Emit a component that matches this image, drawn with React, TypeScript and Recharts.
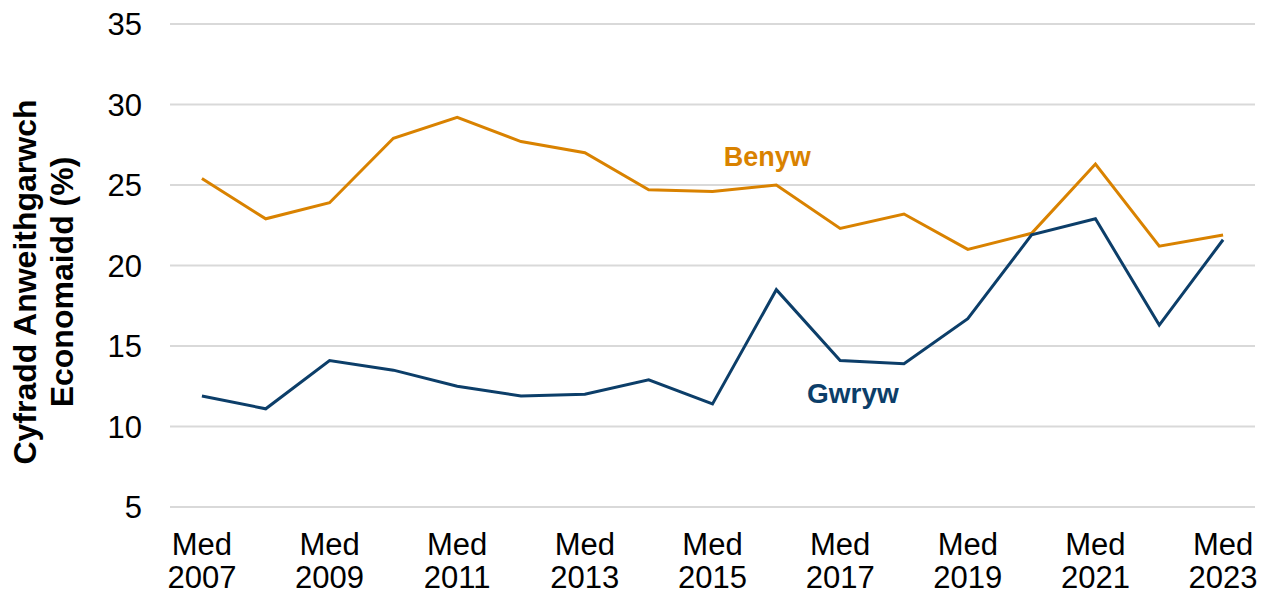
import React from 'react';
import { LineChart, Line, XAxis, YAxis, CartesianGrid } from 'recharts';

const monthLabel = 'Med';
const years = ['2007','2008','2009','2010','2011','2012','2013','2014','2015','2016','2017','2018','2019','2020','2021','2022','2023'];
const benyw = [25.4, 22.9, 23.9, 27.9, 29.2, 27.7, 27.0, 24.7, 24.6, 25.0, 22.3, 23.2, 21.0, 22.0, 26.3, 21.2, 21.9];
const gwryw = [11.9, 11.1, 14.1, 13.5, 12.5, 11.9, 12.0, 12.9, 11.4, 18.5, 14.1, 13.9, 16.7, 21.9, 22.9, 16.3, 21.6];
const yTicks = [5, 10, 15, 20, 25, 30, 35];
const yLabelLines = ['Cyfradd Anweithgarwch', 'Economaidd (%)'];
const seriesNames = { benyw: 'Benyw', gwryw: 'Gwryw' };

const ORANGE = '#D98200';
const NAVY = '#0C3E69';
const FONT = '"Liberation Sans", Arial, sans-serif';

const data = years.map((y, i) => ({ cat: `${monthLabel} ${y}`, year: y, benyw: benyw[i], gwryw: gwryw[i] }));

const XTick = (props: any) => {
  const { x, y, payload, index } = props;
  if (index % 2 !== 0) return null;
  const yr = payload.value.split(' ')[1];
  return (
    <g>
      <text x={x} y={y + 48} textAnchor="middle" fontSize={31} fill="#000" fontFamily={FONT}>{monthLabel}</text>
      <text x={x} y={y + 81} textAnchor="middle" fontSize={31} fill="#000" fontFamily={FONT}>{yr}</text>
    </g>
  );
};

const YLabel = (props: any) => {
  const cy = 282;
  return (
    <g>
      <text x={36} y={cy} transform={`rotate(-90, 36, ${cy})`} textAnchor="middle" fontSize={32} fontWeight="bold" fill="#000" fontFamily={FONT}>{yLabelLines[0]}</text>
      <text x={73} y={cy} transform={`rotate(-90, 73, ${cy})`} textAnchor="middle" fontSize={32} fontWeight="bold" fill="#000" fontFamily={FONT}>{yLabelLines[1]}</text>
    </g>
  );
};

const benywLabel = (p: any) => {
  if (p.index !== 9) return null;
  return <text x={p.x - 9} y={p.y - 19} textAnchor="middle" fontSize={27} fontWeight="bold" fill={ORANGE} fontFamily={FONT}>{seriesNames.benyw}</text>;
};
const gwrywLabel = (p: any) => {
  if (p.index !== 11) return null;
  return <text x={p.x - 51} y={p.y + 39} textAnchor="middle" fontSize={28} fontWeight="bold" fill={NAVY} fontFamily={FONT}>{seriesNames.gwryw}</text>;
};

export default function App() {
  return (
    <div style={{ position: 'absolute', left: 0, top: 0, width: 1268, height: 596, background: '#fff' }}>
      <LineChart width={1268} height={596} data={data} margin={{ top: 24, right: 13, bottom: 0, left: 0 }}>
        <CartesianGrid vertical={false} stroke="#D9D9D9" strokeWidth={2} />
        <XAxis dataKey="cat" scale="band" interval={0} tick={<XTick />} tickLine={false} axisLine={false} tickSize={0} tickMargin={0} height={89} />
        <YAxis domain={[5, 35]} ticks={yTicks} width={170} tickLine={false} axisLine={false} tickSize={0} tickMargin={28}
          tick={{ fontSize: 31, fill: '#000', fontFamily: FONT }} label={<YLabel />} />
        <Line type="linear" dataKey="benyw" stroke={ORANGE} strokeWidth={3} dot={false} isAnimationActive={false} label={benywLabel} />
        <Line type="linear" dataKey="gwryw" stroke={NAVY} strokeWidth={3} dot={false} isAnimationActive={false} label={gwrywLabel} />
      </LineChart>
    </div>
  );
}
